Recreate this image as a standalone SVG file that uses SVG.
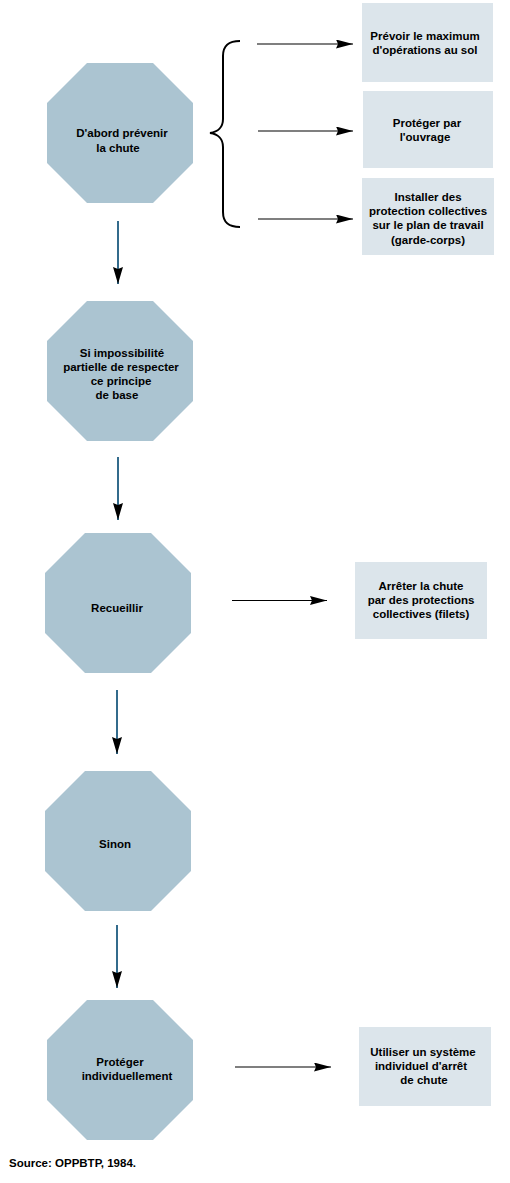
<svg xmlns="http://www.w3.org/2000/svg" width="510" height="1183" viewBox="0 0 510 1183">
<style>
.oct{fill:#abc4d1;}
.box{fill:#dce5eb;}
text{font-family:"Liberation Sans",Arial,sans-serif;font-size:11.5px;font-weight:bold;fill:#000;text-anchor:middle;}
.src{text-anchor:start;}
.h{stroke:#000;stroke-width:1.2;fill:none;marker-end:url(#ah);}
.v{stroke:#336b8c;stroke-width:2;fill:none;marker-end:url(#av);}
.brace{stroke:#000;stroke-width:2;fill:none;}
</style>
<defs>
<marker id="ah" viewBox="0 0 17 9" refX="17" refY="4.5" markerWidth="17" markerHeight="9" markerUnits="userSpaceOnUse" orient="auto">
<path d="M0,0 L17,4.5 L0,9 L2,4.5 z" fill="#000"/>
</marker>
<marker id="av" viewBox="0 0 17 10" refX="17" refY="5" markerWidth="17" markerHeight="10" markerUnits="userSpaceOnUse" orient="auto">
<path d="M0,0 L17,5 L0,10 L2,5 z" fill="#000"/>
</marker>
<polygon id="octShape" points="40,0 106,0 146,40 146,100 106,140 40,140 0,100 0,40"/>
</defs>

<g id="n1">
<use href="#octShape" class="oct" x="47" y="63"/>
<text x="122" y="137">D'abord prévenir</text>
<text x="118" y="152">la chute</text>
</g>
<g id="n2">
<use href="#octShape" class="oct" x="47" y="301"/>
<text x="122" y="357">Si impossibilité</text>
<text x="121" y="371">partielle de respecter</text>
<text x="121" y="385">ce principe</text>
<text x="117" y="399">de base</text>
</g>
<g id="n3">
<use href="#octShape" class="oct" x="45" y="533"/>
<text x="117" y="612">Recueillir</text>
</g>
<g id="n4">
<use href="#octShape" class="oct" x="45" y="771"/>
<text x="115" y="848">Sinon</text>
</g>
<g id="n5">
<use href="#octShape" class="oct" x="47" y="1000"/>
<text x="120" y="1066">Protéger</text>
<text x="127" y="1080">individuellement</text>
</g>

<g id="b1">
<rect class="box" x="362" y="3" width="131" height="79"/>
<text x="425" y="40">Prévoir le maximum</text>
<text x="425" y="54">d'opérations au sol</text>
</g>
<g id="b2">
<rect class="box" x="363" y="91" width="130" height="77"/>
<text x="427" y="127">Protéger par</text>
<text x="425" y="141">l'ouvrage</text>
</g>
<g id="b3">
<rect class="box" x="362" y="178" width="132" height="77"/>
<text x="428" y="201">Installer des</text>
<text x="428" y="215">protection collectives</text>
<text x="428" y="229">sur le plan de travail</text>
<text x="428" y="244">(garde-corps)</text>
</g>
<g id="b4">
<rect class="box" x="355" y="562" width="132" height="77"/>
<text x="421" y="590">Arrêter la chute</text>
<text x="421" y="604">par des protections</text>
<text x="421" y="618">collectives (filets)</text>
</g>
<g id="b5">
<rect class="box" x="359" y="1027" width="132" height="79"/>
<text x="423" y="1056">Utiliser un système</text>
<text x="421" y="1070">individuel d'arrêt</text>
<text x="424" y="1084">de chute</text>
</g>

<g id="connectors">
<path class="brace" d="M240,41 C229,41 223,45 223,56 L223,119 C223,127 218,132 210,133 C218,134 223,139 223,147 L223,212 C223,223 229,227 240,227"/>
<line class="h" x1="257" y1="44" x2="353" y2="44"/>
<line class="h" x1="258" y1="131" x2="353" y2="131"/>
<line class="h" x1="258" y1="219" x2="353" y2="219"/>
<line class="h" x1="232" y1="600.5" x2="327" y2="600.5"/>
<line class="h" x1="235" y1="1067" x2="331" y2="1067"/>
<line class="v" x1="118" y1="221" x2="118" y2="284"/>
<line class="v" x1="118" y1="457" x2="118" y2="520"/>
<line class="v" x1="117" y1="690" x2="117" y2="754"/>
<line class="v" x1="117" y1="925" x2="117" y2="988"/>
</g>

<text class="src" x="9" y="1167">Source: OPPBTP, 1984.</text>
</svg>
